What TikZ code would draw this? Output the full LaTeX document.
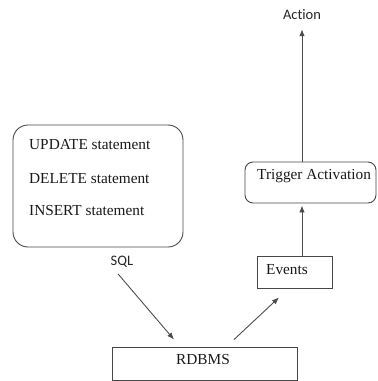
\documentclass[tikz,border=0pt]{standalone}
\usepackage{fontspec}
\setmainfont{Liberation Serif}
\newfontfamily\calfont{Carlito}[Ligatures=NoCommon]
\usetikzlibrary{arrows.meta}
\begin{document}
\begin{tikzpicture}[x=1pt,y=-1pt,
  boxline/.style={draw=black!72,line width=0.9pt,inner sep=0pt},
  txt/.style={font=\fontsize{15.3}{17}\selectfont,inner sep=0pt,text=black!90},
  lab/.style={font=\calfont\fontsize{14.5}{16}\selectfont,inner sep=0pt,text=black!85},
  arr/.style={draw=black!70,line width=0.9pt,-{Latex[length=7pt,width=5.5pt]}}]
\useasboundingbox (0,0) rectangle (378,381);
% boxes
\node[boxline,rounded corners=15pt,minimum width=170pt,minimum height=122pt] (sqlbox) at (98,186) {};
\node[boxline,rounded corners=8pt,minimum width=131pt,minimum height=41pt] (trig) at (310.5,182.5) {};
\node[boxline,minimum width=75pt,minimum height=32pt] (ev) at (294.5,272) {};
\node[boxline,minimum width=185pt,minimum height=33pt] (db) at (204.5,363.5) {};
% texts
\node[txt,anchor=west] (t1) at (29,145) {UPDATE statement};
\node[txt,anchor=west] (t2) at (29,179) {DELETE statement};
\node[txt,anchor=west] (t3) at (29,211) {INSERT statement};
\node[txt,anchor=west] (tt) at (257,176) {Trigger Activation};
\node[txt,anchor=west] (te) at (266,270) {Events};
\node[txt] (tdb) at (203,360) {RDBMS};
\node[lab] (sql) at (122,262) {SQL};
\node[lab] (act) at (302,15) {Action};
% connectors
\draw[arr] (trig.north -| act.south) -- ([yshift=-9pt]act.south);
\draw[arr] (ev.north -| act.south) -- ([yshift=-2pt]trig.south -| act.south);
\draw[arr] ([xshift=-4pt,yshift=-6pt]sql.south) -- ([xshift=-30.5pt,yshift=7pt]db.north);
\draw[arr] ([xshift=29.5pt,yshift=7pt]db.north) -- ([xshift=-15.5pt,yshift=-9pt]ev.south);
\end{tikzpicture}
\end{document}
